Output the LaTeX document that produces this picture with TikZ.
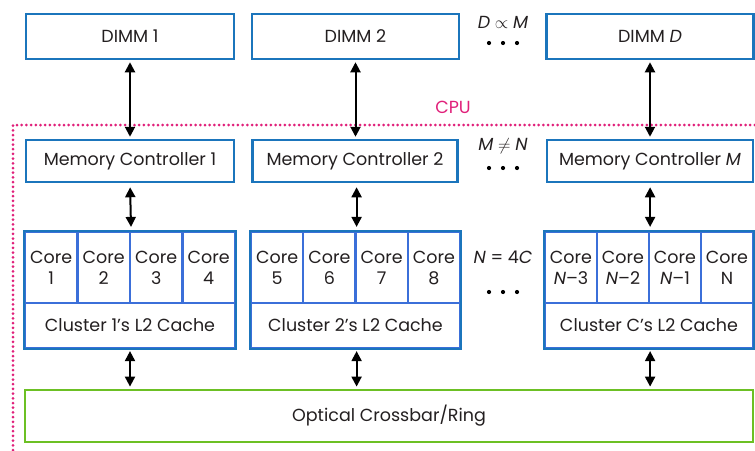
\documentclass[tikz,border=0pt]{standalone}
\usepackage{fontspec}
\setmainfont{Poppins}
\usetikzlibrary{arrows.meta}
\definecolor{dimmblue}{HTML}{1B75BC}
\definecolor{clblue}{HTML}{3B6FD9}
\definecolor{optgreen}{HTML}{6CC024}
\definecolor{cpupink}{HTML}{E0207A}
\definecolor{textc}{HTML}{231F20}
\begin{document}
\begin{tikzpicture}[x=1pt,y=-1pt,
  txt/.style={font=\fontsize{17.5}{21}\selectfont, text=textc},
  bluebox/.style={draw=dimmblue, line width=2.5pt, inner sep=0pt, txt},
  corebox/.style={draw=clblue, line width=2.2pt, inner sep=0pt, minimum height=71pt, align=center, txt},
  cachebox/.style={draw=clblue, line width=2.2pt, inner sep=0pt, minimum height=45pt, txt},
  clframe/.style={draw=dimmblue, line width=2.5pt},
  optbox/.style={draw=optgreen, line width=2.8pt, inner sep=0pt, txt},
  darr/.style={{Triangle[length=10pt,width=10pt]}-{Triangle[length=10pt,width=10pt]}, line width=2pt, black},
  cpuline/.style={draw=cpupink, line width=3pt, line cap=round, dash pattern=on 0pt off 4.7pt},
  ann/.style={txt, inner sep=0pt}]
\useasboundingbox (0,0) rectangle (755,450);

% CPU boundary
\draw[cpuline] (13,450) -- (13,125) -- (755,125);
\node[txt, text=cpupink, inner sep=0pt] (cpu) at (453,107) {CPU};

% DIMMs
\node[bluebox, minimum width=208pt, minimum height=45pt] (dimm1) at (130,36.5) {DIMM 1};
\node[bluebox, minimum width=207pt, minimum height=45pt] (dimm2) at (355.5,36.5) {DIMM 2};
\node[bluebox, minimum width=207pt, minimum height=45pt] (dimm3) at (650,36.5) {DIMM \textit{D}};

% Memory controllers
\node[bluebox, minimum width=208pt, minimum height=42pt] (mc1) at (130,161) {Memory Controller 1};
\node[bluebox, minimum width=205pt, minimum height=42pt] (mc2) at (355,161) {Memory Controller 2};
\node[bluebox, minimum width=206pt, minimum height=42pt] (mc3) at (650,161) {Memory Controller \textit{M}};

% Clusters
\foreach \i/\L/\W/\la/\lb/\lc/\ld/\cn in {1/25/210/1/2/3/4/1, 2/251/209/5/6/7/8/2, 3/545/208/{\textit{N}–3}/{\textit{N}–2}/{\textit{N}–1}/N/C}{
  \pgfmathsetmacro\cw{\W/4}
  \node[corebox, minimum width=\cw pt] (core\i-1) at ({\L+0.5*\cw},267.5) {Core\\\la};
  \node[corebox, minimum width=\cw pt] (core\i-2) at ({\L+1.5*\cw},267.5) {Core\\\lb};
  \node[corebox, minimum width=\cw pt] (core\i-3) at ({\L+2.5*\cw},267.5) {Core\\\lc};
  \node[corebox, minimum width=\cw pt] (core\i-4) at ({\L+3.5*\cw},267.5) {Core\\\ld};
  \node[cachebox, minimum width=\W pt] (cache\i) at ({\L+0.5*\W},325.5) {Cluster \cn’s L2 Cache};
  \draw[clframe] (core\i-1.north west) rectangle (cache\i.south east);
}

% Optical crossbar
\node[optbox, minimum width=728pt, minimum height=52pt] (opt) at (389,416) {Optical Crossbar/Ring};

% Connectors
\draw[darr, shorten <=2pt, shorten >=2pt] (dimm1.south) -- (mc1.north);
\draw[darr, shorten <=2pt, shorten >=2pt] (dimm2.south) -- (dimm2.south |- mc2.north);
\draw[darr, shorten <=2pt, shorten >=2pt] (dimm3.south) -- (mc3.north);
\draw[darr, shorten <=4pt, shorten >=4pt] (mc1.south) -- (core1-2.north east);
\draw[darr, shorten <=4pt, shorten >=4pt] (core2-2.north east |- mc2.south) -- (core2-2.north east);
\draw[darr, shorten <=4pt, shorten >=4pt] (core3-2.north east |- mc3.south) -- (core3-2.north east);
\draw[darr, shorten <=2pt, shorten >=2pt] (cache1.south) -- (cache1.south |- opt.north);
\draw[darr, shorten <=2pt, shorten >=2pt] (core2-2.north east |- cache2.south) -- (core2-2.north east |- opt.north);
\draw[darr, shorten <=2pt, shorten >=2pt] (core3-2.north east |- cache3.south) -- (core3-2.north east |- opt.north);

% Annotations
\node[ann] (a1) at (503,22) {\textit{D} $\propto$ \textit{M}};
\node[ann] (a2) at (503,146) {\textit{M} $\neq$ \textit{N}};
\node[ann] (a3) at (503,257) {\textit{N} = 4\textit{C}};
\foreach \y in {43,168,292}{
  \fill (489,\y) circle (2.1pt) (503,\y) circle (2.1pt) (517,\y) circle (2.1pt);
}
\end{tikzpicture}
\end{document}
